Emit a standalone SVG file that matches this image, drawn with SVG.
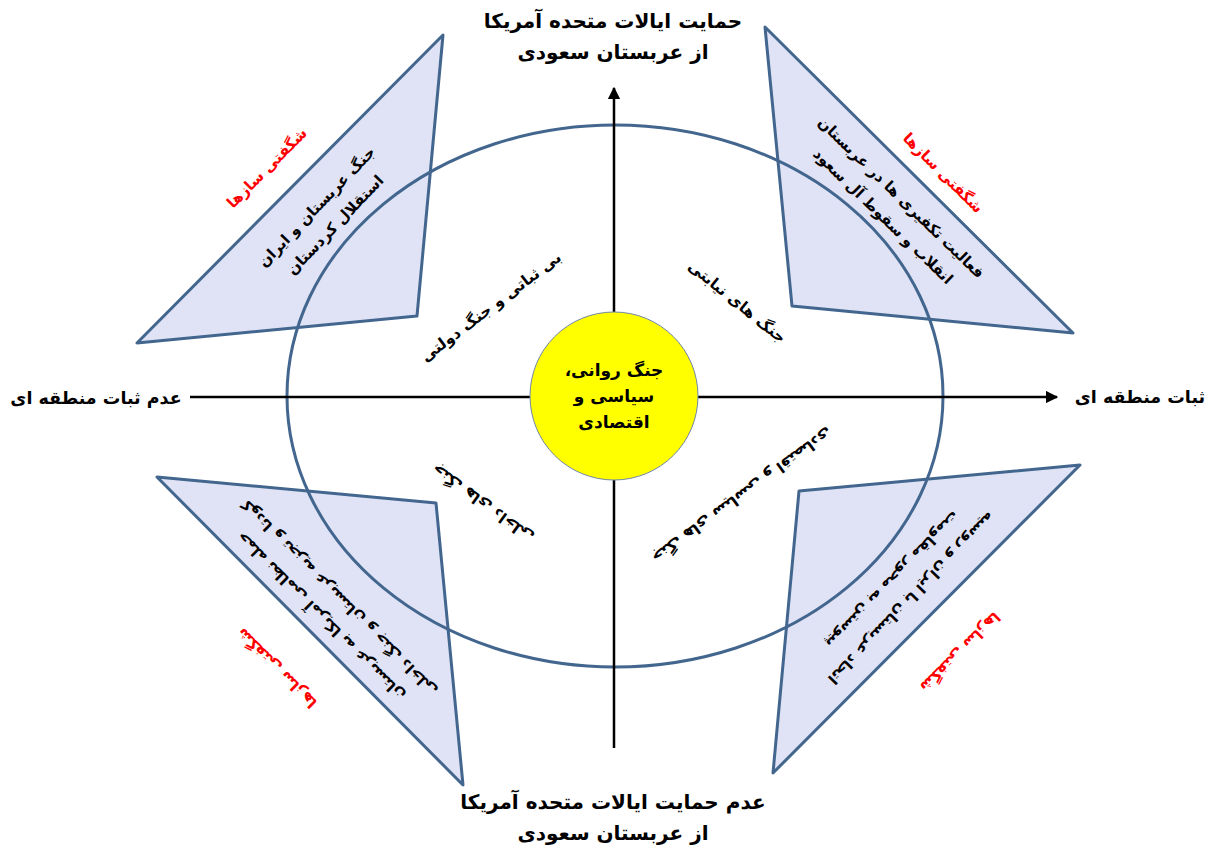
<svg xmlns="http://www.w3.org/2000/svg" width="1213" height="850" viewBox="0 0 1213 850">
<defs>
<marker id="arr" viewBox="0 0 10 10" refX="9" refY="5" markerWidth="5" markerHeight="5" orient="auto" markerUnits="strokeWidth">
<path d="M0,0 L10,5 L0,10 z" fill="#000"/>
</marker>
<style>
.tri{fill:#E0E3F5;stroke:#43668F;stroke-width:3;stroke-linejoin:round}
.ax{stroke:#000;stroke-width:2.5;fill:none}
.t{font-family:"DejaVu Sans","Noto Sans",sans-serif;font-weight:bold;fill:#000;text-anchor:middle;dominant-baseline:central;direction:rtl;unicode-bidi:embed}
.lab{font-size:20px}
.side{font-size:17.5px}
.q{font-size:15.5px}
.red{fill:#FF0000;font-size:15px}
.tr{font-size:15px}
.c{font-size:17px}
</style>
</defs>
<rect width="1213" height="850" fill="#fff"/>
<g id="tri-tl"><polygon class="tri" points="443,35 137,343 417,316"/></g>
<g id="tri-tr"><polygon class="tri" points="765,27 1073,333 792,306"/></g>
<g id="tri-bl"><polygon class="tri" points="157,477 436,503 463,785"/></g>
<g id="tri-br"><polygon class="tri" points="1080,465 799,491 773,773"/></g>
<g id="ellipse"><ellipse cx="615" cy="396" rx="328" ry="271" fill="none" stroke="#43668F" stroke-width="3"/></g>
<g id="connectors">
<line class="ax" x1="190" y1="397" x2="1057" y2="397" marker-end="url(#arr)"/>
<line class="ax" x1="614" y1="748" x2="614" y2="88" marker-end="url(#arr)"/>
</g>
<g id="center"><circle cx="614" cy="396" r="84" fill="#FFFF00" stroke="#6F87A8" stroke-width="1"/>
<text class="t c" x="614" y="370">جنگ روانی،</text>
<text class="t c" x="614" y="396">سیاسی و</text>
<text class="t c" x="614" y="422">اقتصادی</text></g>
<g id="top-label"><text class="t lab" x="613" y="21">حمایت ایالات متحده آمریکا</text><text class="t lab" x="613" y="52">از عربستان سعودی</text></g>
<g id="bottom-label"><text class="t lab" x="613" y="802">عدم حمایت ایالات متحده آمریکا</text><text class="t lab" x="613" y="833">از عربستان سعودی</text></g>
<g id="left-label"><text class="t side" x="96" y="398">عدم ثبات منطقه ای</text></g>
<g id="right-label"><text class="t side" x="1140" y="397">ثبات منطقه ای</text></g>
<g id="q-tl"><text class="t q" transform="translate(491,307) rotate(-37)">بی ثباتی و جنگ دولتی</text></g>
<g id="q-tr"><text class="t q" transform="translate(737,302) rotate(39)">جنگ های نیابتی</text></g>
<g id="q-bl"><text class="t q" transform="translate(483,503) rotate(-144)">جنگ های داخلی</text></g>
<g id="q-br"><text class="t q" transform="translate(742,495) rotate(144)">جنگ های سیاسی و اقتصادی</text></g>
<g id="w-tl"><text class="t red" transform="translate(267,168) rotate(-45)">شگفتی سازها</text>
<g transform="translate(326,216) rotate(-46)"><text class="t tr" x="0" y="-13">جنگ عربستان و ایران</text><text class="t tr" x="0" y="13">استقلال کردستان</text></g></g>
<g id="w-tr"><text class="t red" transform="translate(943,173) rotate(45)">شگفتی سازها</text>
<g transform="translate(892,207) rotate(44)"><text class="t tr" x="0" y="-13">فعالیت تکفیری ها در عربستان</text><text class="t tr" x="0" y="13">انقلاب و سقوط آل سعود</text></g></g>
<g id="w-bl"><text class="t red" transform="translate(277,668) rotate(-135)">شگفتی سازها</text>
<g transform="translate(330,607) rotate(-135)"><text class="t tr" x="0" y="-13">حمله نظامی آمریکا به عربستان</text><text class="t tr" x="0" y="13">کودتا و تجزیه عربستان و جنگ داخلی</text></g></g>
<g id="w-br"><text class="t red" transform="translate(960,652) rotate(135)">شگفتی سازها</text>
<g transform="translate(902,589) rotate(134)"><text class="t tr" x="0" y="-13">اتحاد عربستان با ایران و روسیه</text><text class="t tr" x="0" y="13">پیوستن به محور مقاومت</text></g></g>
</svg>
